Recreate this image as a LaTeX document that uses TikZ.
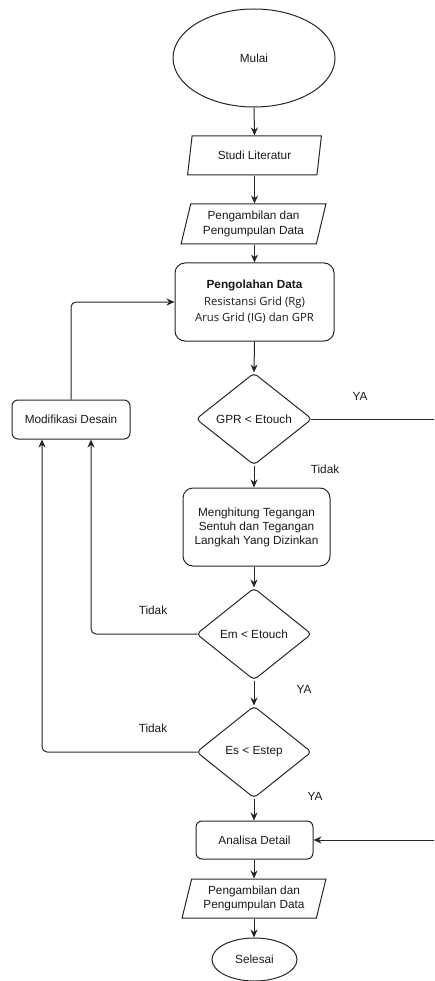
\documentclass[tikz,border=0pt]{standalone}
\usepackage{fontspec}
\setmainfont{Liberation Sans}
\newfontfamily\segoe{Open Sans}
\usetikzlibrary{shapes.geometric,arrows.meta}
\begin{document}
\begin{tikzpicture}[x=1pt,y=-1pt,
  every node/.style={font=\fontsize{11.8}{14.3}\selectfont, text=black!90},
  line/.style={draw=black!85, line width=1pt},
  arr/.style={line, -{Stealth[length=8pt,width=7pt]}},
  oval/.style={ellipse, line, inner sep=0pt},
  para/.style={trapezium, trapezium left angle=73, trapezium right angle=107,
    trapezium stretches=true, line, inner sep=0pt, align=center},
  rbox/.style={rectangle, line, rounded corners=#1, inner sep=0pt, align=center},
  rbox/.default=6pt,
  dia/.style={diamond, line, rounded corners=4pt, inner sep=0pt,
    minimum width=115pt, minimum height=92pt},
  lbl/.style={inner sep=0pt}
]
\useasboundingbox (0,0) rectangle (434,981);
\clip (0,0) rectangle (434,981);

\node[oval, minimum width=162pt, minimum height=98pt] (start) at (254,58) {Mulai};
\node[para, minimum width=135pt, minimum height=39pt] (studi) at (254.5,155.5) {Studi Literatur};
\node[para, minimum width=145pt, minimum height=40pt] (ambil) at (253.5,224) {Pengambilan dan\\Pengumpulan Data};
\node[rbox=10pt, minimum width=159pt, minimum height=78pt, font=\fontsize{11.8}{16.5}\selectfont] (olah) at (254.5,302)
  {\textbf{Pengolahan Data}\\{\segoe\fontsize{11.3}{16.5}\selectfont Resistansi Grid (Rg)}\\{\segoe\fontsize{11.3}{16.5}\selectfont Arus Grid (IG) dan GPR}};
\node[dia, minimum width=116pt] (gpr) at (254,419) {GPR < Etouch};
\node[rbox, minimum width=118pt, minimum height=39pt] (mod) at (71,419.5) {Modifikasi Desain};
\node[rbox=10pt, minimum width=147pt, minimum height=78pt, font=\fontsize{11.8}{14}\selectfont] (hitung) at (256.5,527)
  {Menghitung Tegangan\\Sentuh dan Tegangan\\Langkah Yang Dizinkan};
\node[dia] (em) at (254,634) {Em < Etouch};
\node[dia] (es) at (254,752) {Es < Estep};
\node[rbox, minimum width=117pt, minimum height=38pt] (ana) at (254.5,840) {Analisa Detail};
\node[para, minimum width=144pt, minimum height=39pt] (ambil2) at (254,898.5) {Pengambilan dan\\Pengumpulan Data};
\node[oval, minimum width=85pt, minimum height=43pt] (end) at (254.5,959.5) {Selesai};

\node[lbl] (ya1) at (360,396) {YA};
\node[lbl] (td1) at (325,469) {Tidak};
\node[lbl] (td2) at (153,610) {Tidak};
\node[lbl] (ya2) at (304,689) {YA};
\node[lbl] (td3) at (153,728) {Tidak};
\node[lbl] (ya3) at (315,796) {YA};

\coordinate (r1) at (446,419);
\coordinate (r2) at (446,840);

\draw[arr] (start.south) -- (studi.north);
\draw[arr] (studi.south) -- (ambil.north -| studi.south);
\draw[arr] (ambil.south -| olah.north) -- (olah.north);
\draw[arr] (olah.south) -- (gpr.north);
\draw[arr] (gpr.south) -- (gpr.south |- hitung.north);
\draw[arr] (hitung.south -| em.north) -- (em.north);
\draw[arr] (em.south) -- (es.north);
\draw[arr] (es.south) -- (es.south |- ana.north);
\draw[arr] (ana.south -| ambil2.north) -- (ambil2.north);
\draw[arr] (ambil2.south) -- (end.north -| ambil2.south);
\draw[arr] ([xshift=-1.5pt]gpr.east) -- (r1) -- (r2) -- (ana.east);
\draw[arr, rounded corners=5pt] ([xshift=1.5pt]em.west) -| ([xshift=20pt]mod.south);
\draw[arr, rounded corners=5pt] ([xshift=1.5pt]es.west) -| ([xshift=-29pt]mod.south);
\draw[arr, rounded corners=5pt] (mod.north) |- (olah.west);
\end{tikzpicture}
\end{document}
